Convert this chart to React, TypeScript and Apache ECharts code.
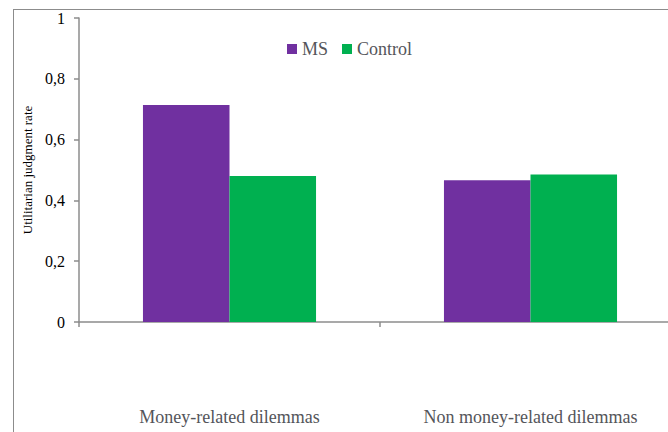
import React, { useEffect, useRef } from "react";
import * as echarts from "echarts";

const categories = ["Money-related dilemmas", "Non money-related dilemmas"];
const msValues = [0.714, 0.466];
const controlValues = [0.48, 0.485];
const seriesNames = ["MS", "Control"];
const yTicks = [0, 0.2, 0.4, 0.6, 0.8, 1];

const SERIF = "Liberation Serif";

export default function App() {
  const ref = useRef<HTMLDivElement>(null);
  useEffect(() => {
    document.body.style.margin = "0";
    const el = ref.current!;
    const chart = echarts.init(el, null, { renderer: "svg" });
    chart.setOption({
      animation: false,
      legend: {
        top: 35,
        left: 282,
        itemWidth: 10,
        itemHeight: 10,
        itemGap: 14,
        icon: "rect",
        textStyle: { fontFamily: SERIF, fontSize: 18 },
        data: seriesNames,
      },
      grid: { left: 79, top: 18, bottom: 110, right: 19 },
      xAxis: {
        type: "category",
        data: categories,
        axisLine: { lineStyle: { color: "#8c8c8c", width: 1.5 } },
        axisTick: { show: true, length: 5, lineStyle: { color: "#8c8c8c", width: 1.5 } },
        axisLabel: { fontSize: 18, fontFamily: SERIF, margin: 86 },
      },
      yAxis: {
        type: "value",
        min: 0,
        max: 1,
        interval: 0.2,
        name: "Utilitarian judgment rate",
        nameLocation: "middle",
        nameRotate: 90,
        nameGap: 45,
        nameTextStyle: { color: "#000", fontSize: 13, fontFamily: SERIF },
        splitLine: { show: false },
        axisLine: { show: true, lineStyle: { color: "#8c8c8c", width: 1.5 } },
        axisTick: { show: true, length: 5, lineStyle: { color: "#8c8c8c", width: 1.5 } },
        axisLabel: {
          color: "#000",
          fontSize: 16,
          fontFamily: SERIF,
          margin: 14,
          formatter: (v: number) => {
            const r = Math.round(v * 10) / 10;
            return yTicks.includes(r) ? String(r).replace(".", ",") : "";
          },
        },
      },
      series: [
        {
          name: seriesNames[0],
          type: "bar",
          data: msValues,
          barGap: "0%",
          barCategoryGap: "42.5%",
          itemStyle: { color: "#7030A0" },
        },
        {
          name: seriesNames[1],
          type: "bar",
          data: controlValues,
          barGap: "0%",
          barCategoryGap: "42.5%",
          itemStyle: { color: "#00B050" },
        },
      ],
    });
    return () => chart.dispose();
  }, []);
  return (
    <div style={{ position: "relative", width: 668, height: 432, overflow: "hidden" }}>
      <div
        style={{
          position: "absolute",
          left: 13,
          top: 9,
          width: 720,
          height: 500,
          border: "1.5px solid #8c8c8c",
          pointerEvents: "none",
        }}
      />
      <div ref={ref} style={{ position: "absolute", left: 0, top: 0, width: 700, height: 432 }} />
    </div>
  );
}
